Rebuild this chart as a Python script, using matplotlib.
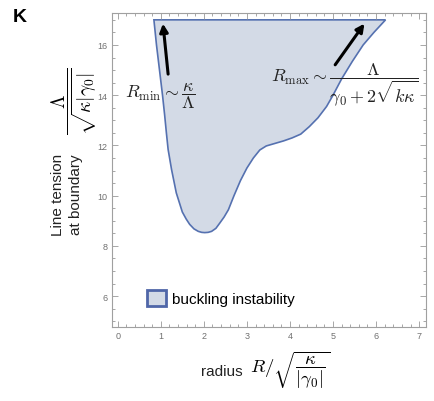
"""Buckling instability region in the (radius, line tension) plane."""

import matplotlib.pyplot as plt
from matplotlib.patches import Patch
from matplotlib.ticker import MultipleLocator

plt.rcParams["mathtext.fontset"] = "cm"
plt.rcParams["font.family"] = ["Liberation Sans", "DejaVu Sans"]

# Boundary of the unstable region, traced from the top-left corner,
# down the R_min branch, round the minimum and up the R_max branch.
boundary_r = [
    0.84, 0.90, 0.97, 1.04, 1.09, 1.13, 1.17, 1.25, 1.36, 1.50, 1.59, 1.67,
    1.77, 1.87, 1.95, 2.02, 2.10, 2.18, 2.28, 2.37, 2.47, 2.57, 2.70, 2.85,
    3.00, 3.15, 3.30, 3.45, 3.65, 3.85, 4.05, 4.25, 4.45, 4.65, 4.85, 5.00,
    5.20, 5.45, 5.70, 5.95, 6.22,
]
boundary_lambda = [
    17.0, 16.0, 15.0, 14.0, 13.2, 12.5, 11.84, 11.04, 10.11, 9.35, 9.07, 8.86,
    8.68, 8.58, 8.54, 8.53, 8.54, 8.58, 8.70, 8.91, 9.15, 9.44, 10.0, 10.6,
    11.1, 11.5, 11.82, 11.98, 12.08, 12.18, 12.30, 12.45, 12.75, 13.10, 13.55, 14.0,
    14.65, 15.35, 16.0, 16.5, 17.0,
]

# Arrows (tail -> head) in data units
rmin_arrow = [(1.17, 14.84), (1.05, 16.85)]
rmax_arrow = [(5.05, 15.21), (5.73, 16.85)]

x_ticks = [0, 1, 2, 3, 4, 5, 6, 7]
y_ticks = [6, 8, 10, 12, 14, 16]

fill_color = "#d3dae6"
edge_color = "#5571b0"

fig = plt.figure(figsize=(4.34, 4.02), dpi=100)
ax = fig.add_axes([0.2574, 0.1833, 0.7242, 0.7811])

ax.fill(boundary_r, boundary_lambda, facecolor=fill_color, edgecolor=edge_color, lw=1.2)

for tail, head in (rmin_arrow, rmax_arrow):
    ax.annotate(
        "", xy=head, xytext=tail,
        arrowprops=dict(arrowstyle="-|>", color="black", lw=2.2, mutation_scale=12,
                        shrinkA=0, shrinkB=0),
    )

ax.text(0.99, 14.02, r"$R_{\min}\sim\dfrac{\kappa}{\Lambda}$", fontsize=13,
        ha="center", va="center", color="#222222")
ax.text(5.27, 14.45, r"$R_{\max}\sim\dfrac{\Lambda}{\gamma_0+2\sqrt{k\kappa}}$",
        fontsize=13, ha="center", va="center", color="#222222")

ax.set_xlim(-0.14, 7.16)
ax.set_ylim(4.76, 17.26)
ax.set_xticks(x_ticks)
ax.set_yticks(y_ticks)
ax.xaxis.set_minor_locator(MultipleLocator(0.2))
ax.yaxis.set_minor_locator(MultipleLocator(0.5))
ax.tick_params(which="both", direction="in", top=True, right=True,
               color="#999999", width=0.6, labelsize=6.5, labelcolor="#707070", pad=3)
ax.tick_params(which="major", length=4)
ax.tick_params(which="minor", length=2)
for s in ax.spines.values():
    s.set_color("#a0a0a0")
    s.set_linewidth(0.8)

ax.legend(
    handles=[Patch(facecolor=fill_color, edgecolor="#4f66a8", lw=2, label="buckling instability")],
    loc="lower left", bbox_to_anchor=(0.112, 0.068), frameon=False, fontsize=11,
    handlelength=1.25, handleheight=1.25, borderpad=0, borderaxespad=0, handletextpad=0.4,
)

fig.text(13 / 434, 1 - 22 / 402, "K", fontsize=14, fontweight="bold", va="baseline")
fig.text(67 / 434, 1 - 195 / 402, "Line tension\nat boundary", rotation=90,
         fontsize=11, ha="center", va="center", multialignment="center",
         linespacing=1.45, color="#222222")
fig.text(74 / 434, 1 - 101 / 402, r"$\dfrac{\Lambda}{\sqrt{\kappa|\gamma_0|}}$",
         rotation=90, fontsize=14, ha="center", va="center")
fig.text(222 / 434, 1 - 376 / 402, "radius", fontsize=11, ha="center", va="baseline",
         color="#222222")
fig.text(250 / 434, 1 - 370 / 402, r"$R/\sqrt{\dfrac{\kappa}{|\gamma_0|}}$",
         fontsize=13.5, ha="left", va="center")

fig.savefig("out.png", dpi=100)
